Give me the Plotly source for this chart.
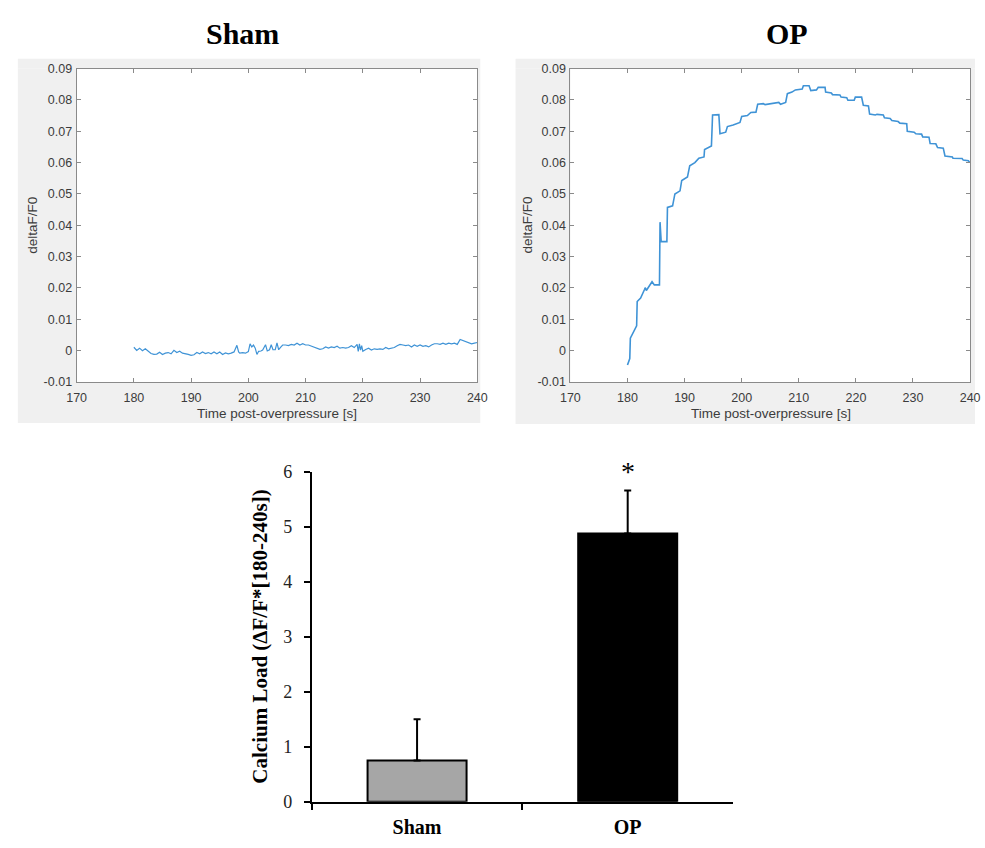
import plotly.graph_objects as go

# ---------------- data ----------------
sham_t = [180, 180.5, 181, 181.5, 182, 182.5, 183, 183.5, 184, 184.5, 185, 185.5,
          186, 186.5, 187, 187.5, 188, 188.5, 189, 189.5, 190, 190.5, 191, 191.5,
          192, 192.5, 193, 193.5, 194, 194.5, 195, 195.5, 196, 196.5, 197, 197.5,
          198, 198.3, 198.5, 199, 199.5, 200, 200.3, 200.6, 200.9, 201.2, 201.5, 201.8,
          202.2, 202.5, 203, 203.3, 203.7, 204, 204.3, 204.7, 205, 205.3, 205.7, 206,
          206.5, 207, 207.5, 208, 208.5, 209, 209.5, 210, 210.5, 211, 211.5, 212,
          212.5, 213, 213.5, 214, 214.5, 215, 215.5, 216, 216.5, 217, 217.5, 218,
          218.5, 219, 219.2, 219.4, 219.6, 219.8, 220, 220.5, 221, 221.5, 222, 222.5,
          223, 223.5, 224, 224.5, 225, 225.5, 226, 226.5, 227, 227.5, 228, 228.5,
          229, 229.5, 230, 230.5, 231, 231.5, 232, 232.5, 233, 233.5, 234, 234.5,
          235, 235.5, 236, 236.5, 237, 237.5, 238, 238.5, 239, 239.5, 240]
sham_df = [0.0011, 0.0001, 0.0008, 0.0000, 0.0006, -0.0002, -0.0009, -0.0012, -0.0011, -0.0005, -0.0012, -0.0008,
           -0.0006, -0.0010, 0.0001, -0.0006, -0.0002, -0.0008, -0.0009, -0.0012, -0.0015, -0.0013, -0.0006, -0.0010,
           -0.0004, -0.0009, -0.0006, -0.0010, -0.0004, -0.0010, -0.0004, -0.0012, -0.0007, -0.0010, -0.0008, -0.0004,
           0.0017, -0.0004, -0.0008, -0.0006, -0.0008, -0.0003, 0.0022, 0.0012, 0.0018, 0.0008, -0.0012, -0.0002,
           -0.0001, 0.0002, 0.0019, -0.0001, 0.0003, 0.0019, 0.0003, 0.0003, 0.0025, 0.0003, 0.0012, 0.0018,
           0.0018, 0.0016, 0.0020, 0.0018, 0.0024, 0.0018, 0.0022, 0.0018, 0.0018, 0.0015, 0.0012, 0.0008,
           0.0004, 0.0006, 0.0012, 0.0008, 0.0012, 0.0010, 0.0014, 0.0008, 0.0010, 0.0008, 0.0010, 0.0016,
           0.0010, 0.0020, -0.0002, 0.0022, 0.0002, 0.0016, -0.0002, 0.0004, 0.0008, 0.0002, 0.0006, 0.0004,
           0.0006, 0.0004, 0.0010, 0.0006, 0.0008, 0.0010, 0.0016, 0.0020, 0.0018, 0.0016, 0.0018, 0.0012,
           0.0018, 0.0014, 0.0018, 0.0014, 0.0016, 0.0012, 0.0018, 0.0022, 0.0022, 0.0020, 0.0024, 0.0020,
           0.0024, 0.0022, 0.0024, 0.0020, 0.0036, 0.0032, 0.0030, 0.0024, 0.0022, 0.0024, 0.0026]

op_t = [180.0, 180.4, 180.5, 181.05, 181.6, 181.7, 182.3, 183.0, 183.1, 183.3, 184.0, 184.3,
        184.7, 185.6, 185.7, 185.9, 186.9, 187.0, 187.9, 188.3, 189.2, 189.5, 190.5, 190.9,
        191.8, 192.5, 193.4, 193.5, 194.7, 194.9, 196.0, 196.2, 197.2, 197.5, 198.5, 199.7,
        200.0, 201.0, 201.6, 202.5, 202.8, 203.8, 204.1, 206.5, 206.8, 207.7, 208.0, 208.8,
        209.4, 210.6, 210.8, 211.8, 212.1, 213.1, 213.4, 214.6, 214.7, 215.7, 215.9, 217.2,
        217.4, 218.4, 218.6, 219.7, 219.9, 221.0, 221.3, 222.2, 222.4, 223.4, 223.7, 224.8,
        225.0, 226.0, 226.3, 227.4, 227.7, 228.9, 229.0, 230.2, 230.5, 231.5, 231.7, 232.8,
        233.0, 234.0, 234.3, 235.3, 235.6, 236.9, 237.0, 238.6, 238.8, 239.7, 239.9, 240.0]
op_df = [-0.0046, -0.0025, 0.0040, 0.0058, 0.0079, 0.0157, 0.0168, 0.0196, 0.0201, 0.0192, 0.0210, 0.0220,
         0.0210, 0.0210, 0.0410, 0.0348, 0.0348, 0.0457, 0.0462, 0.0500, 0.0510, 0.0543, 0.0554, 0.0590,
         0.0600, 0.0614, 0.0618, 0.0642, 0.0653, 0.0752, 0.0753, 0.0692, 0.0697, 0.0715, 0.0720, 0.0728,
         0.0747, 0.0750, 0.0760, 0.0761, 0.0786, 0.0788, 0.0785, 0.0792, 0.0786, 0.0792, 0.0820, 0.0825,
         0.0832, 0.0835, 0.0845, 0.0845, 0.0830, 0.0832, 0.0840, 0.0840, 0.0825, 0.0822, 0.0817, 0.0816,
         0.0809, 0.0807, 0.0799, 0.0799, 0.0809, 0.0809, 0.0783, 0.0781, 0.0755, 0.0752, 0.0754, 0.0752,
         0.0743, 0.0741, 0.0734, 0.0731, 0.0726, 0.0724, 0.0700, 0.0697, 0.0692, 0.0691, 0.0682, 0.0681,
         0.0661, 0.0660, 0.0648, 0.0646, 0.0621, 0.0618, 0.0614, 0.0613, 0.0608, 0.0606, 0.0601, 0.0601]

groups = ["Sham", "OP"]
calcium_load = [0.75, 4.88]
calcium_sem = [0.75, 0.78]

trace_xticks = [170, 180, 190, 200, 210, 220, 230, 240]
trace_yticks = [-0.01, 0, 0.01, 0.02, 0.03, 0.04, 0.05, 0.06, 0.07, 0.08, 0.09]
trace_yticktext = ["-0.01", "0", "0.01", "0.02", "0.03", "0.04", "0.05", "0.06", "0.07", "0.08", "0.09"]
bar_yticks = [0, 1, 2, 3, 4, 5, 6]

# ---------------- layout helpers ----------------
W, H = 985, 848


def px_x(p):
    return p / W


def px_y(p):
    return 1 - p / H


SANS = "Liberation Sans, Arial, sans-serif"
SERIF = "Liberation Serif, Times New Roman, serif"
LINE_BLUE = "#3f93d6"
AX_GRAY = "#8a8a8a"
LABEL_GRAY = "#3c3c3c"
WINDOW_GRAY = "#f0f0f0"

fig = go.Figure()

fig.add_trace(go.Scatter(x=sham_t, y=sham_df, mode="lines",
                         line=dict(color=LINE_BLUE, width=1.2),
                         xaxis="x", yaxis="y", showlegend=False))
fig.add_trace(go.Scatter(x=op_t, y=op_df, mode="lines",
                         line=dict(color=LINE_BLUE, width=1.6),
                         xaxis="x2", yaxis="y2", showlegend=False))
fig.add_trace(go.Bar(x=groups, y=calcium_load, width=0.47,
                     marker=dict(color=["#a6a6a6", "#000000"],
                                 line=dict(color="#000000", width=2)),
                     error_y=dict(type="data", symmetric=False, array=calcium_sem,
                                  arrayminus=[0, 0], color="#000000",
                                  thickness=2, width=3.5),
                     xaxis="x3", yaxis="y3", showlegend=False))

trace_x_common = dict(range=[170, 240], tickvals=trace_xticks, showgrid=False,
                      zeroline=False, showline=True, linecolor=AX_GRAY, linewidth=1,
                      mirror="ticks", ticks="inside", ticklen=4, tickcolor=AX_GRAY,
                      tickfont=dict(family=SANS, size=12.5, color=LABEL_GRAY),
                      ticklabelstandoff=4)
trace_y_common = dict(range=[-0.01, 0.09], tickvals=trace_yticks, ticktext=trace_yticktext,
                      showgrid=False, zeroline=False, showline=True, linecolor=AX_GRAY,
                      linewidth=1, mirror="ticks", ticks="inside", ticklen=4,
                      tickcolor=AX_GRAY,
                      tickfont=dict(family=SANS, size=12.5, color=LABEL_GRAY),
                      ticklabelstandoff=1)

# pixel boxes (left, right, top, bottom) of the two figure windows and their axes
sham_window, sham_axes = (8, 480, 50, 423), (68, 477, 60, 381)
op_window, op_axes = (516, 985, 50, 424), (572, 980, 60, 381)

fig.update_layout(
    width=W, height=H,
    margin=dict(l=0, r=0, t=0, b=0),
    paper_bgcolor="white", plot_bgcolor="white",
    xaxis=dict(domain=[px_x(sham_axes[0]), px_x(sham_axes[1])], anchor="y",
               **trace_x_common),
    yaxis=dict(domain=[px_y(sham_axes[3]), px_y(sham_axes[2])], anchor="x",
               **trace_y_common),
    xaxis2=dict(domain=[px_x(op_axes[0]), px_x(op_axes[1])], anchor="y2",
                **trace_x_common),
    yaxis2=dict(domain=[px_y(op_axes[3]), px_y(op_axes[2])], anchor="x2",
                **trace_y_common),
    xaxis3=dict(domain=[px_x(308), px_x(738)], anchor="y3", type="category",
                range=[-0.5, 1.5], showgrid=False, zeroline=False, showline=True,
                linecolor="#000000", linewidth=2, ticks="outside", ticklen=6,
                tickwidth=2, tickcolor="#000000", tickson="boundaries",
                tickfont=dict(family=SERIF, size=20, color="#000000",
                              weight="bold"),
                ticklabelstandoff=6),
    yaxis3=dict(domain=[px_y(811), px_y(473)], anchor="x3", range=[0, 6],
                tickvals=bar_yticks, showgrid=False, zeroline=False, showline=True,
                linecolor="#000000", linewidth=2, ticks="outside", ticklen=6,
                tickwidth=2, tickcolor="#000000",
                tickfont=dict(family=SERIF, size=18, color="#222222"),
                ticklabelstandoff=8),
)


def grey_frame(window, axes):
    """Grey window border around a white axes area, as four strips."""
    wl, wr, wt, wb = window
    al, ar, at, ab = axes
    strips = [(wl, wr, wt, at), (wl, wr, ab, wb), (wl, al, at, ab), (ar, wr, at, ab)]
    for l, r, t, b in strips:
        fig.add_shape(type="rect", xref="paper", yref="paper", layer="below",
                      x0=px_x(l), x1=px_x(r), y0=px_y(b), y1=px_y(t),
                      fillcolor=WINDOW_GRAY, line=dict(width=0))


grey_frame(sham_window, sham_axes)
grey_frame(op_window, op_axes)

annotations = [
    dict(text="<b>Sham</b>", x=px_x(237), y=px_y(24),
         font=dict(family=SERIF, size=30, color="#000000")),
    dict(text="<b>OP</b>", x=px_x(793), y=px_y(24),
         font=dict(family=SERIF, size=30, color="#000000")),
    dict(text="deltaF/F0", x=px_x(23), y=px_y(220.5), textangle=-90,
         font=dict(family=SANS, size=13.5, color=LABEL_GRAY)),
    dict(text="deltaF/F0", x=px_x(528), y=px_y(220.5), textangle=-90,
         font=dict(family=SANS, size=13.5, color=LABEL_GRAY)),
    dict(text="Time post-overpressure [s]", x=px_x(272.5), y=px_y(413),
         font=dict(family=SANS, size=13.5, color=LABEL_GRAY)),
    dict(text="Time post-overpressure [s]", x=px_x(776.5), y=px_y(413),
         font=dict(family=SANS, size=13.5, color=LABEL_GRAY)),
    dict(text="<b>Calcium Load (ΔF/F*[180-240s])</b>", x=px_x(255), y=px_y(642),
         textangle=-90, font=dict(family=SERIF, size=21, color="#000000")),
]
for a in annotations:
    fig.add_annotation(xref="paper", yref="paper", showarrow=False,
                       xanchor="center", yanchor="middle", **a)

# significance marker above the OP bar
fig.add_annotation(x="OP", y=calcium_load[1] + calcium_sem[1], xref="x3", yref="y3",
                   text="*", showarrow=False, yanchor="bottom", yshift=2,
                   font=dict(family=SERIF, size=28, color="#000000"))

fig.write_html("out.html")
